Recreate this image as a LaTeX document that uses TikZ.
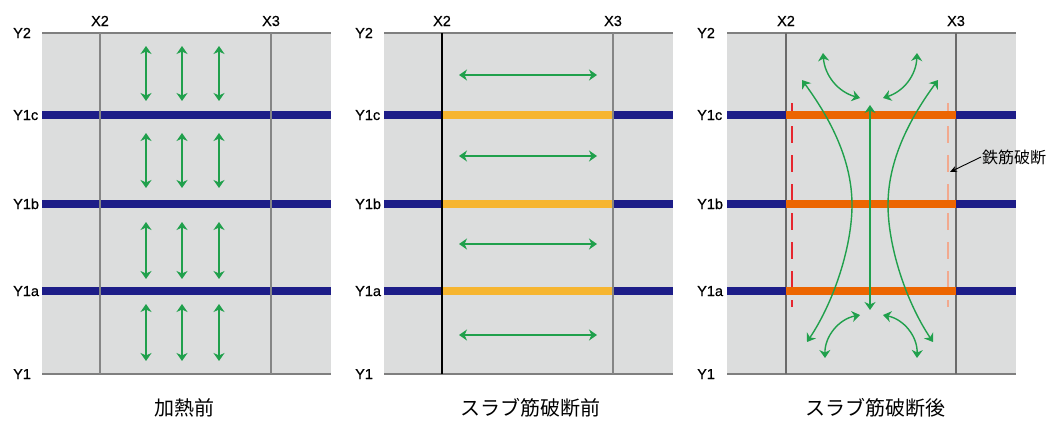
\documentclass[tikz,border=0pt]{standalone}
\usepackage{fontspec}
\setmainfont{Liberation Sans}
\newfontfamily\labfont[FakeBold=0.5]{Liberation Sans}
\newfontfamily\jpfont{Noto Sans CJK JP}
\usetikzlibrary{arrows.meta}
\definecolor{slab}{HTML}{DCDDDD}
\definecolor{framegray}{HTML}{7F7F7F}
\definecolor{xgray}{HTML}{858585}
\definecolor{xdark}{HTML}{6A6A6A}
\definecolor{navy}{HTML}{1D1D88}
\definecolor{lightorange}{HTML}{F6B530}
\definecolor{deeporange}{HTML}{EC6500}
\definecolor{grn}{HTML}{20A04C}
\definecolor{dashred}{HTML}{E6262E}
\definecolor{dashpale}{HTML}{F2A98E}
\begin{document}
\begin{tikzpicture}[x=1pt,y=-1pt,
  frameline/.style={draw=framegray,line width=1.8pt},
  xline/.style={draw=xgray,line width=1.8pt},
  barline/.style={line width=7.5pt},
  gtip/.tip={Stealth[length=8pt,width=11pt,inset=2.5pt]},
  garrow/.style={draw=grn,line width=1.4pt,gtip-gtip},
  axlab/.style={inner sep=0pt,font=\fontsize{14.5}{16}\selectfont\labfont},
  captext/.style={inner sep=0pt,font=\fontsize{20}{24}\selectfont\jpfont},
  brkdash/.style={line width=1.5pt,dash pattern=on 17pt off 12pt,dash phase=6pt}]
\useasboundingbox (0,0) rectangle (1049,423);
\fill[white] (0,0) rectangle (1049,423);

% ---------------- Panel 1 ----------------
\fill[slab] (42,33) rectangle (331,374);
\draw[frameline] (42,33) -- (331,33);
\draw[frameline] (42,374) -- (331,374);
\foreach \y in {115,204,291}{\draw[barline,navy] (42,\y) -- (331,\y);}
\draw[xline] (100,33) -- (100,374);
\draw[xline] (271,33) -- (271,374);
\foreach \x in {146,182,219}{
  \foreach \a/\b in {46/101,133/188,222/279,304/361}{
    \draw[garrow] (\x,\a) -- (\x,\b);}}
\node[axlab,anchor=base west] (aY2) at (13,38) {Y2};
\node[axlab,anchor=base west] (aY1c) at (13,120) {Y1c};
\node[axlab,anchor=base west] (aY1b) at (13,209) {Y1b};
\node[axlab,anchor=base west] (aY1a) at (13,296) {Y1a};
\node[axlab,anchor=base west] (aY1) at (13,379) {Y1};
\node[axlab,anchor=base] (aX2) at (100,26) {X2};
\node[axlab,anchor=base] (aX3) at (271,26) {X3};
\node[captext] (acap) at (184,408) {加熱前};

% ---------------- Panel 2 ----------------
\fill[slab] (384,33) rectangle (673,374);
\draw[frameline] (384,33) -- (673,33);
\draw[frameline] (384,374) -- (673,374);
\foreach \y in {115,204,291}{
  \draw[barline,navy] (384,\y) -- (673,\y);
  \draw[barline,lightorange] (442,\y) -- (613,\y);}
\draw[black,line width=1.5pt] (442,33) -- (442,374);
\draw[xline] (613,33) -- (613,374);
\foreach \y in {75,156,244,335}{\draw[garrow] (459,\y) -- (597,\y);}
\node[axlab,anchor=base west] (bY2) at (355,38) {Y2};
\node[axlab,anchor=base west] (bY1c) at (355,120) {Y1c};
\node[axlab,anchor=base west] (bY1b) at (355,209) {Y1b};
\node[axlab,anchor=base west] (bY1a) at (355,296) {Y1a};
\node[axlab,anchor=base west] (bY1) at (355,379) {Y1};
\node[axlab,anchor=base] (bX2) at (442,26) {X2};
\node[axlab,anchor=base] (bX3) at (613,26) {X3};
\node[captext] (bcap) at (530,408) {スラブ筋破断前};

% ---------------- Panel 3 ----------------
\fill[slab] (727,33) rectangle (1016,374);
\draw[frameline] (727,33) -- (1016,33);
\draw[frameline] (727,374) -- (1016,374);
\draw[draw=xdark,line width=1.8pt] (786,33) -- (786,374);
\draw[draw=xdark,line width=1.8pt] (956,33) -- (956,374);
\draw[brkdash,dashred] (792,103) -- (792,307);
\draw[brkdash,dashpale] (948,103) -- (948,307);
\foreach \y in {115,204,291}{
  \draw[barline,navy] (727,\y) -- (1016,\y);
  \draw[barline,deeporange] (786,\y) -- (956,\y);}
\draw[garrow] (870,105) -- (870,310);
\draw[garrow] (802,80) .. controls (835,125) and (852,165) .. (852,205)
              .. controls (852,245) and (835,300) .. (807,342);
\draw[garrow] (938,80) .. controls (905,125) and (888,165) .. (888,205)
              .. controls (888,245) and (905,300) .. (933,342);
\draw[garrow] (823,53) to[bend right=35] (860,98);
\draw[garrow] (917,53) to[bend left=35] (883,98);
\draw[garrow] (860,315) to[bend right=40] (825,358);
\draw[garrow] (883,315) to[bend left=40] (917,358);
\node[axlab,anchor=base west] (cY2) at (697,38) {Y2};
\node[axlab,anchor=base west] (cY1c) at (697,120) {Y1c};
\node[axlab,anchor=base west] (cY1b) at (697,209) {Y1b};
\node[axlab,anchor=base west] (cY1a) at (697,296) {Y1a};
\node[axlab,anchor=base west] (cY1) at (697,379) {Y1};
\node[axlab,anchor=base] (cX2) at (786,26) {X2};
\node[axlab,anchor=base] (cX3) at (956,26) {X3};
\node[captext] (ccap) at (875,408) {スラブ筋破断後};
\node[inner sep=1pt,anchor=west,font=\fontsize{16}{18}\selectfont\jpfont] (brk) at (981,157) {鉄筋破断};
\coordinate (brkend) at (950,172);
\draw[black,line width=0.9pt,-{Stealth[length=7pt,width=6pt]}] (brk.west) -- (brkend);
\end{tikzpicture}
\end{document}
